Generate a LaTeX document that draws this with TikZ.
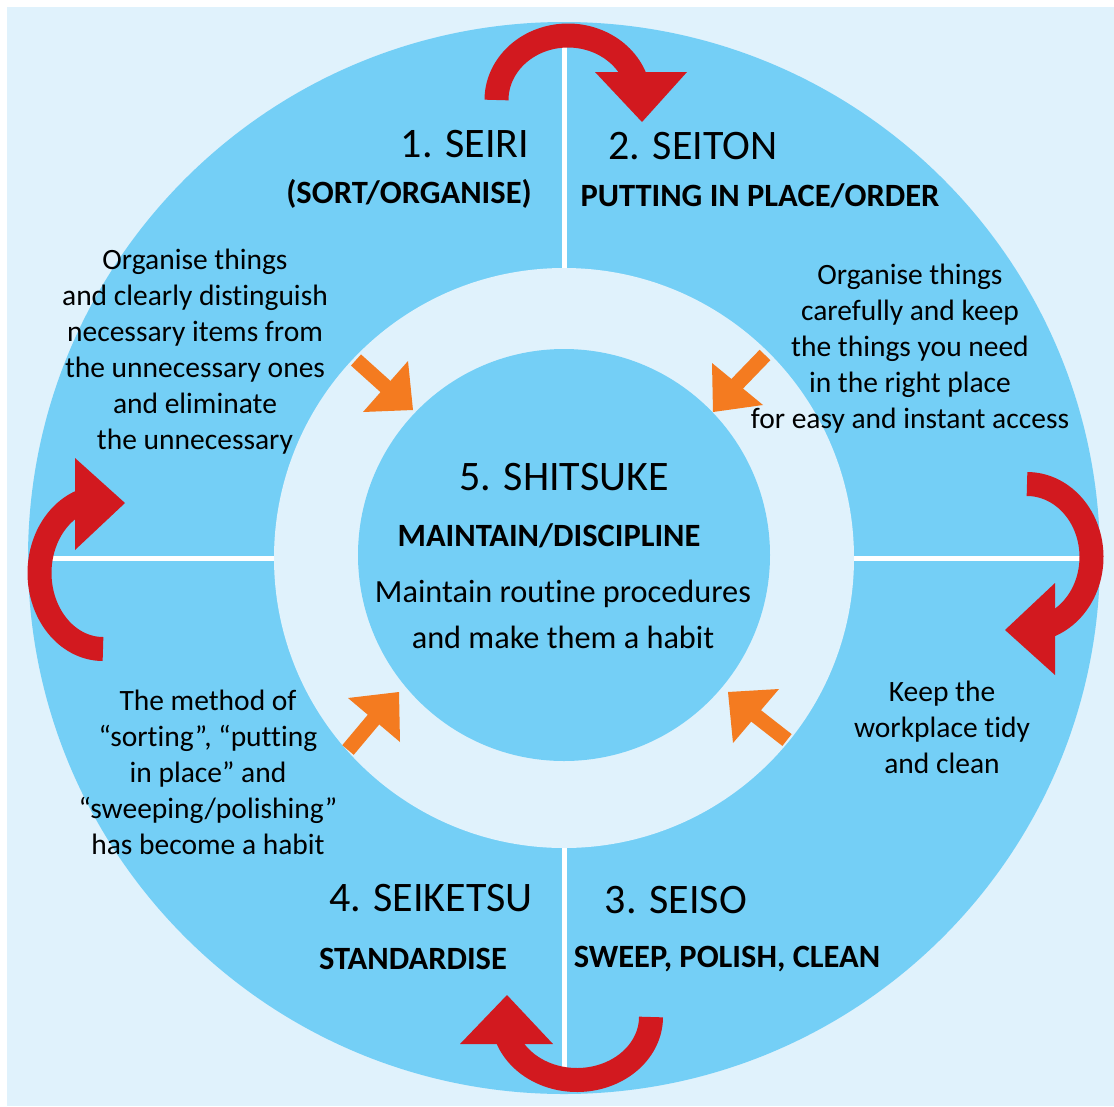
\documentclass[tikz,border=0pt]{standalone}
\usepackage{fontspec}
\setmainfont{Carlito}[Ligatures=NoCommon]
\definecolor{pale}{HTML}{E0F2FC}
\definecolor{sky}{HTML}{74CFF6}
\definecolor{loopred}{HTML}{D2191F}
\definecolor{pointer}{HTML}{F47B20}
\tikzset{
  divider/.style={white, line width=5},
  loopband/.style={loopred, line width=24, line cap=butt},
  loophead/.style={fill=loopred},
  pshaft/.style={pointer, line width=15, line cap=butt},
  phead/.style={fill=pointer},
  heading/.style={font=\fontsize{42}{48}\selectfont, inner sep=0, anchor=base},
  subhead/.style={font=\bfseries\fontsize{32.5}{38}\selectfont, inner sep=0, anchor=base},
  body/.style={font=\fontsize{29.5}{36}\selectfont, align=center, inner sep=0},
  corebody/.style={font=\fontsize{32.3}{46}\selectfont, align=center, inner sep=0},
}
\begin{document}
\begin{tikzpicture}[x=1pt, y=-1pt]
\useasboundingbox (0,0) rectangle (1114,1106);
\fill[white] (0,0) rectangle (1114,1106);
\fill[pale] (7,7) rectangle (1114,1106);

% discs: outer band, pale ring, core
\fill[sky] (564,558) circle[radius=536];
\fill[pale] (564,558) circle[radius=290];
\fill[sky] (564,555) circle[radius=206];

% quadrant dividers
\coordinate (dTa) at (564,46);   \coordinate (dTb) at (564,268);
\coordinate (dBa) at (564,848);  \coordinate (dBb) at (564,1068);
\coordinate (dLa) at (52,558);   \coordinate (dLb) at (274,558);
\coordinate (dRa) at (854,558);  \coordinate (dRb) at (1080,558);
\draw[divider] (dTa) -- (dTb);
\draw[divider] (dBa) -- (dBb);
\draw[divider] (dLa) -- (dLb);
\draw[divider] (dRa) -- (dRb);

% red cycle arrows
\draw[loopband] plot[domain=180:340, samples=60, variable=\t] ({568+71.5*cos(\t)}, {100+64.5*sin(\t)});
\fill[loophead] (595,72) -- (687,72) -- (642,122) -- cycle;

\draw[loopband] plot[domain=-90:70, samples=60, variable=\t] ({1027+64.5*cos(\t)}, {557+73*sin(\t)});
\fill[loophead] (1055,583) -- (1005,630) -- (1055,675) -- cycle;

\draw[loopband] plot[domain=0:160, samples=60, variable=\t] ({577+74*cos(\t)}, {1017+63*sin(\t)});
\fill[loophead] (460,1044) -- (507,995) -- (553,1044) -- cycle;

\draw[loopband] plot[domain=90:250, samples=60, variable=\t] ({103+63.5*cos(\t)}, {573+76*sin(\t)});
\fill[loophead] (75,458) -- (125,503) -- (75,550) -- cycle;

% orange pointers into the core
\draw[pshaft] (356,360) -- (386,387);
\fill[phead] (413,410) -- (363,412) -- (408,361) -- cycle;
\draw[pshaft] (765,355) -- (736,385);
\fill[phead] (713,412) -- (712,363) -- (763,405) -- cycle;
\draw[pshaft] (348,750) -- (374,719);
\fill[phead] (399,692) -- (348,698) -- (400,742) -- cycle;
\draw[pshaft] (787,740) -- (755,715);
\fill[phead] (728,692) -- (779,689) -- (733,743) -- cycle;

% quadrant headings
\node[heading] (h1) at (465,157) {1. SEIRI};
\node[subhead] (s1) at (409,203) {(SORT/ORGANISE)};
\node[heading] (h2) at (693,159) {2. SEITON};
\node[subhead] (s2) at (760,206) {PUTTING IN PLACE/ORDER};
\node[heading] (h4) at (431,911) {4. SEIKETSU};
\node[subhead] (s4) at (413,969) {STANDARDISE};
\node[heading] (h3) at (676,913) {3. SEISO};
\node[subhead] (s3) at (727,967) {SWEEP, POLISH, CLEAN};

% quadrant descriptions
\node[body] (t1) at (195,352) {Organise things\\and clearly distinguish\\necessary items from\\the unnecessary ones\\and eliminate\\the unnecessary};
\node[body] (t2) at (910,349) {Organise things\\carefully and keep\\the things you need\\in the right place\\for easy and instant access};
\node[body] (t4) at (208,772) {The method of\\“sorting”, “putting\\in place” and\\“sweeping/polishing”\\has become a habit};
\node[body] (t3) at (942,727) {Keep the\\workplace tidy\\and clean};

% core
\node[heading] (h5) at (564,490) {5. SHITSUKE};
\node[subhead] (s5) at (549,546) {MAINTAIN/DISCIPLINE};
\node[corebody] (t5) at (563,614) {Maintain routine procedures\\and make them a habit};
\end{tikzpicture}
\end{document}
